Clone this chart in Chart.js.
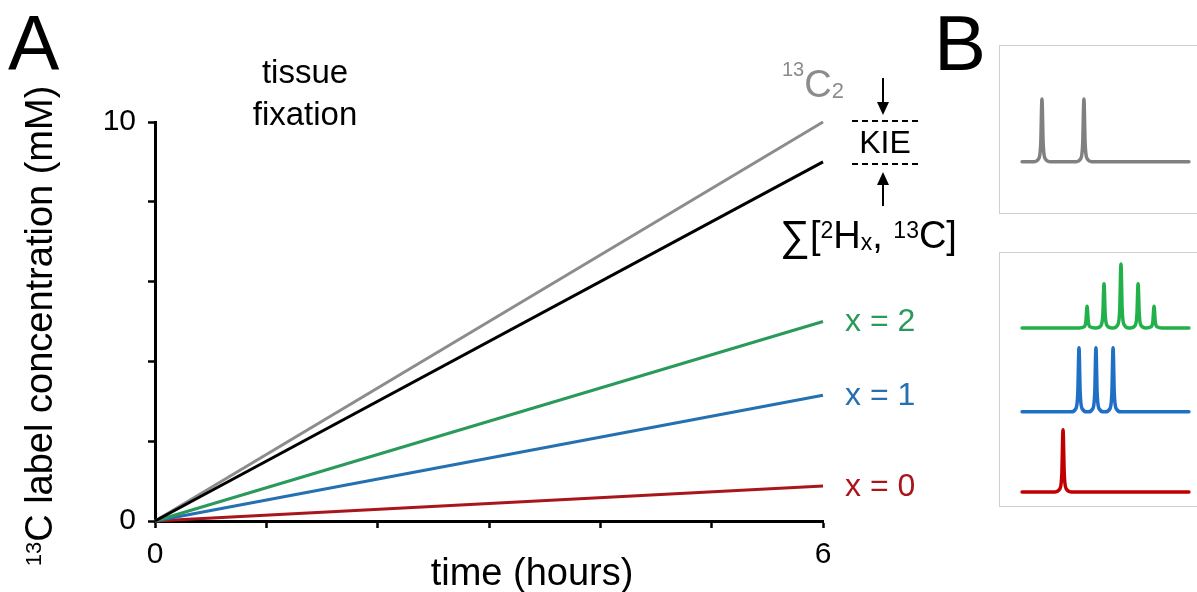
<!DOCTYPE html>
<html>
<head>
<meta charset="utf-8">
<script src="https://cdn.jsdelivr.net/npm/chart.js@4.4.1/dist/chart.umd.min.js"></script>
<style>
  html, body { margin: 0; padding: 0; background: #fff; }
  body { width: 1197px; height: 592px; overflow: hidden; position: relative; }
  #main { position: absolute; left: 0; top: 0; }
  .box { position: absolute; box-sizing: border-box; border: 1px solid #cfcfcf; border-right: none; background: #fff; }
  .box canvas { position: absolute; left: 0; top: 0; }
</style>
</head>
<body>
<canvas id="main" width="1197" height="592"></canvas>
<div class="box" style="left:999px; top:45px; width:198px; height:169px;">
  <canvas id="specTop" width="197" height="167"></canvas>
</div>
<div class="box" style="left:999px; top:252px; width:198px; height:255px;">
  <canvas id="specBottom" width="197" height="253"></canvas>
</div>
<script>
// panel A: label concentration vs time
const hours = [0, 6];
const c13x2 = [0, 10];
const sumH = [0, 9.0];
const hx2 = [0, 5.0];
const hx1 = [0, 3.15];
const hx0 = [0, 0.88];
const yTickLabels = [0, 10];
const xTickLabels = [0, 6];

// panel B: peak positions (arbitrary shift units) and relative heights
const grayPeaks = [21.3, 42.6];
const grayHeights = [1, 1];
const greenPeaks = [44.2, 52.8, 61.4, 70.1, 78.2];
const greenHeights = [0.34, 0.69, 1.0, 0.69, 0.34];
const bluePeaks = [40.1, 48.7, 57.4];
const blueHeights = [1, 1, 1];
const redPeaks = [32.0];
const redHeights = [0.97];
const specStart = 11.2;
const specEnd = 95.9;

const FONT = '"Liberation Sans", Arial, sans-serif';
const GRAY = '#8c8c8c';
const GREEN = '#2a9a5a';
const BLUE = '#2470b0';
const RED = '#a8161c';

function pts(xs, ys) {
  return xs.map((x, i) => ({ x: x, y: ys[i] }));
}

function drawRuns(ctx, x, y, runs, align, color) {
  let total = 0;
  runs.forEach(r => {
    ctx.font = r.size + 'px ' + FONT;
    r.w = ctx.measureText(r.t).width;
    total += r.w;
  });
  let cx = x;
  if (align === 'center') cx = x - total / 2;
  if (align === 'right') cx = x - total;
  ctx.textAlign = 'left';
  ctx.textBaseline = 'alphabetic';
  runs.forEach(r => {
    ctx.font = r.size + 'px ' + FONT;
    ctx.fillStyle = r.color || color;
    ctx.fillText(r.t, cx, y + (r.dy || 0));
    cx += r.w;
  });
}

function arrow(ctx, x, y0, tip) {
  const dir = tip > y0 ? 1 : -1;
  ctx.strokeStyle = '#000';
  ctx.fillStyle = '#000';
  ctx.lineWidth = 2;
  ctx.beginPath();
  ctx.moveTo(x, y0);
  ctx.lineTo(x, tip - dir * 10);
  ctx.stroke();
  ctx.beginPath();
  ctx.moveTo(x, tip);
  ctx.lineTo(x - 6, tip - dir * 13);
  ctx.lineTo(x + 6, tip - dir * 13);
  ctx.closePath();
  ctx.fill();
}

const annotations = {
  id: 'annotations',
  afterDraw(chart) {
    const ctx = chart.ctx;
    const xs = chart.scales.x;
    const ys = chart.scales.y;
    const ex = xs.getPixelForValue(hours[1]);
    ctx.save();

    // panel letters
    drawRuns(ctx, 8, 70, [{ t: 'A', size: 77 }], 'left', '#000');
    drawRuns(ctx, 934, 70, [{ t: 'B', size: 78 }], 'left', '#000');

    // tissue fixation
    drawRuns(ctx, 305, 83, [{ t: 'tissue', size: 33 }], 'center', '#000');
    drawRuns(ctx, 305, 125, [{ t: 'fixation', size: 33 }], 'center', '#000');

    // axis titles
    drawRuns(ctx, 532, 585, [{ t: 'time (hours)', size: 38 }], 'center', '#000');
    ctx.save();
    ctx.translate(52, 326);
    ctx.rotate(-Math.PI / 2);
    drawRuns(ctx, 0, 0, [
      { t: '13', size: 22, dy: -11 },
      { t: 'C label concentration (mM)', size: 38 }
    ], 'center', '#000');
    ctx.restore();

    // series labels at the line ends
    const yTop = ys.getPixelForValue(c13x2[1]);
    const yBlk = ys.getPixelForValue(sumH[1]);
    drawRuns(ctx, ex - 41, yTop - 25, [
      { t: '13', size: 20, dy: -21 },
      { t: 'C', size: 38 },
      { t: '2', size: 22, dy: 1 }
    ], 'left', GRAY);

    ctx.strokeStyle = '#000';
    ctx.lineWidth = 2;
    ctx.setLineDash([6, 4]);
    [yTop - 1, yBlk + 2].forEach(yy => {
      ctx.beginPath();
      ctx.moveTo(ex + 29, yy);
      ctx.lineTo(ex + 95, yy);
      ctx.stroke();
    });
    ctx.setLineDash([]);
    drawRuns(ctx, ex + 62, yTop + 31, [{ t: 'KIE', size: 32 }], 'center', '#000');
    arrow(ctx, ex + 60, yTop - 44, yTop - 7);
    arrow(ctx, ex + 60, yBlk + 44, yBlk + 10);

    drawRuns(ctx, ex - 43, yBlk + 86, [
      { t: '\u2211', size: 42, dy: 2 },
      { t: '[', size: 38 },
      { t: '2', size: 23, dy: -10 },
      { t: 'H', size: 38 },
      { t: 'x', size: 23, dy: 2 },
      { t: ', ', size: 38 },
      { t: '13', size: 23, dy: -10 },
      { t: 'C]', size: 38 }
    ], 'left', '#000');

    [[hx2, GREEN, 'x = 2'], [hx1, BLUE, 'x = 1'], [hx0, RED, 'x = 0']].forEach(([arr, col, txt]) => {
      ctx.font = '32px ' + FONT;
      ctx.fillStyle = col;
      ctx.textAlign = 'left';
      ctx.textBaseline = 'middle';
      ctx.fillText(txt, ex + 22, ys.getPixelForValue(arr[1]) + 1);
    });
    ctx.restore();
  }
};

function lineSet(data, color) {
  return {
    data: pts(hours, data),
    borderColor: color,
    borderWidth: 3,
    pointRadius: 0,
    fill: false,
    clip: false
  };
}

new Chart(document.getElementById('main'), {
  type: 'line',
  data: {
    datasets: [
      lineSet(sumH, '#000'),
      lineSet(c13x2, GRAY),
      lineSet(hx2, GREEN),
      lineSet(hx1, BLUE),
      lineSet(hx0, RED)
    ]
  },
  options: {
    responsive: false,
    devicePixelRatio: 1,
    animation: false,
    layout: { padding: { left: 0, top: 122, right: 374, bottom: 0 } },
    plugins: { legend: { display: false }, tooltip: { enabled: false } },
    scales: {
      x: {
        type: 'linear',
        min: 0,
        max: 6,
        afterFit: (scale) => { scale.height = 71; },
        border: { display: true, color: '#000', width: 3 },
        grid: { drawOnChartArea: false, drawTicks: true, tickLength: 7, tickWidth: 2.5, tickColor: '#000' },
        ticks: {
          stepSize: 1,
          color: '#000',
          padding: 9,
          maxRotation: 0,
          font: { family: FONT, size: 30 },
          callback: (v) => xTickLabels.includes(v) ? String(v) : ''
        }
      },
      y: {
        min: 0,
        max: 10,
        afterFit: (scale) => { scale.width = 155; },
        border: { display: true, color: '#000', width: 3 },
        grid: { drawOnChartArea: false, drawTicks: true, tickLength: 7, tickWidth: 2.5, tickColor: '#000' },
        ticks: {
          stepSize: 2,
          color: '#000',
          padding: 12,
          font: { family: FONT, size: 30 },
          callback: (v) => yTickLabels.includes(v) ? String(v) : ''
        }
      }
    }
  },
  plugins: [annotations]
});

// spectra: each peak is drawn as a sharp line shape around its position
const peakOffsets = [-4, -1.6, -0.6, 0, 0.6, 1.6, 4];
const peakShape = [0, 0.05, 0.3, 1, 0.3, 0.05, 0];

function spectrum(peaks, heights, base) {
  const out = [{ x: specStart, y: base }];
  peaks.forEach((p, i) => {
    peakOffsets.forEach((o, k) => out.push({ x: p + o, y: base + heights[i] * peakShape[k] }));
  });
  out.push({ x: specEnd, y: base });
  return out;
}

function specSet(data, color) {
  return {
    data: data,
    borderColor: color,
    borderWidth: 3.5,
    pointRadius: 0,
    fill: false,
    cubicInterpolationMode: 'monotone',
    borderJoinStyle: 'round',
    borderCapStyle: 'round'
  };
}

function specChart(id, datasets, ymin, ymax) {
  new Chart(document.getElementById(id), {
    type: 'line',
    data: { datasets: datasets },
    options: {
      responsive: false,
      devicePixelRatio: 1,
      animation: false,
      layout: { padding: 0 },
      plugins: { legend: { display: false }, tooltip: { enabled: false } },
      scales: {
        x: { type: 'linear', min: 0, max: 100, display: false },
        y: { min: ymin, max: ymax, display: false }
      }
    }
  });
}

specChart('specTop', [specSet(spectrum(grayPeaks, grayHeights, 0), '#808080')], -0.818, 1.845);
specChart('specBottom', [
  specSet(spectrum(greenPeaks, greenHeights, 2.56), '#22b04a'),
  specSet(spectrum(bluePeaks, blueHeights, 1.25), '#1f6fc4'),
  specSet(spectrum(redPeaks, redHeights, 0), '#c00000')
], -0.22, 3.73);
</script>
</body>
</html>
